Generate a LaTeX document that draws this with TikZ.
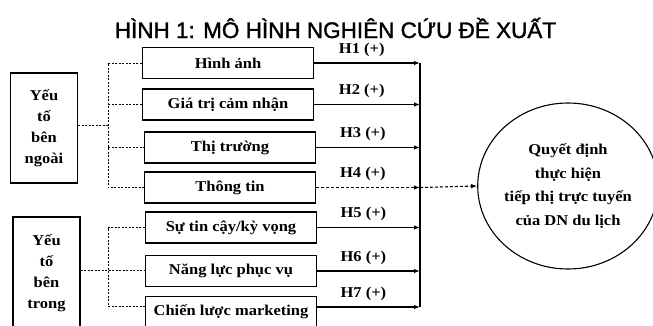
\documentclass[tikz,border=0pt]{standalone}
\usepackage{fontspec}
\setmainfont{Liberation Serif}[FakeStretch=1.1]
\newfontfamily\titlefont{Liberation Sans}[FakeBold=1.5]
\usetikzlibrary{arrows.meta,shapes.geometric}
\begin{document}
\begin{tikzpicture}[x=1pt,y=-1pt,
  fbox/.style={draw, line width=1.2pt, minimum width=171pt, minimum height=31pt, inner sep=0pt,
    font=\fontsize{15}{18}\selectfont\bfseries},
  gbox/.style={draw, line width=1.2pt, minimum width=67pt, inner sep=0pt, align=center,
    font=\fontsize{15}{21}\selectfont\bfseries},
  dots/.style={line width=0.9pt, dash pattern=on 2pt off 1.5pt},
  harrow/.style={line width=1.1pt, -{Latex[length=6pt,width=4.5pt]}},
  hlab/.style={font=\fontsize{15}{18}\selectfont\bfseries, inner sep=0pt, above=6pt, pos=0.45}
]
\useasboundingbox (0,0) rectangle (653,325);
\clip (0,0) rectangle (653,325);

\node[font=\titlefont\fontsize{22.5}{26}\selectfont, anchor=base, inner sep=0pt] (title) at (335.5,38)
  {HÌNH 1: MÔ HÌNH NGHIÊN CỨU ĐỀ XUẤT};

\node[fbox] (b1) at (228,63) {Hình ảnh};
\node[fbox] (b2) at (228,104.5) {Giá trị cảm nhận};
\node[fbox] (b3) at (230,147.5) {Thị trường};
\node[fbox] (b4) at (230,187.5) {Thông tin};
\node[fbox] (b5) at (231,227.5) {Sự tin cậy/kỳ vọng};
\node[fbox] (b6) at (231,271) {Năng lực phục vụ};
\node[fbox] (b7) at (231,312) {Chiến lược marketing};

\node[gbox, minimum height=110pt] (L1) at (44,128) {Yếu\\tố\\bên\\ngoài};
\node[gbox, minimum height=112pt] (L2) at (46.5,273) {Yếu\\tố\\bên\\trong};

\node[ellipse, draw, line width=1.1pt, minimum width=170pt, minimum height=166pt, inner sep=0pt,
  align=center, font=\fontsize{15}{23.5}\selectfont\bfseries] (goal) at (568,186)
  {Quyết định\\thực hiện\\tiếp thị trực tuyến\\của DN du lịch};

% left dotted connectors
\coordinate (j1) at (108,125);
\coordinate (j2) at (108,270);
\draw[dots] (L1.east |- j1) -- (j1);
\draw[dots] (b1.west) -- (b1.west -| j1) -- (b4.west -| j1) -- (b4.west);
\draw[dots] (b2.west -| j1) -- (b2.west);
\draw[dots] (b3.west -| j1) -- (b3.west);
\coordinate (c7) at (b7.west |- 0,306);
\draw[dots] (L2.east |- j2) -- (j2) -- (j2 -| b6.west);
\draw[dots] (b5.west) -- (b5.west -| j2) -- (c7 -| j2) -- (c7);

% bar and arrows
\coordinate (bar) at (420,0);
\coordinate (e7) at (b7.east |- 0,307);
\draw[line width=1.1pt] (b1.east -| bar) -- (e7 -| bar);
\draw[harrow] (b1.east) -- node[hlab]{H1 (+)} (b1.east -| bar);
\draw[harrow] (b2.east) -- node[hlab]{H2 (+)} (b2.east -| bar);
\draw[harrow] (b3.east) -- node[hlab]{H3 (+)} (b3.east -| bar);
\draw[harrow, densely dashed] (b4.east) -- node[hlab]{H4 (+)} (b4.east -| bar);
\draw[harrow] (b5.east) -- node[hlab]{H5 (+)} (b5.east -| bar);
\draw[harrow] (b6.east) -- node[hlab]{H6 (+)} (b6.east -| bar);
\draw[harrow] (e7) -- node[hlab]{H7 (+)} (e7 -| bar);
\draw[harrow, densely dashed] (b4.east -| bar) -- (goal.west);
\end{tikzpicture}
\end{document}
